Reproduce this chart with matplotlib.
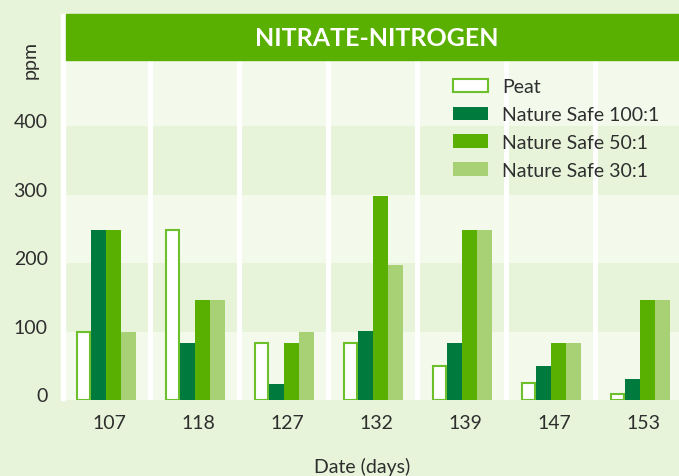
import matplotlib
matplotlib.use("Agg")
from matplotlib import pyplot as plt
from matplotlib.patches import Rectangle
from matplotlib.transforms import ScaledTranslation
import numpy as np

# data
days = ["107", "118", "127", "132", "139", "147", "153"]
peat = [100, 248, 83, 83, 50, 25, 9]
ns_100 = [248, 84, 24, 101, 84, 50, 31]
ns_50 = [248, 146, 84, 298, 248, 84, 146]
ns_30 = [100, 146, 100, 198, 248, 84, 146]
y_ticks = [0, 100, 200, 300, 400]

BG = "#e8f4da"
BAND_LIGHT = "#f3f9eb"
BAND_DARK = "#e8f4da"
DARK_GREEN = "#007a3d"
GREEN = "#5ab000"
LIGHT_GREEN = "#a8d074"
PEAT_EDGE = "#6cc02c"
TEXT = "#2e2e2e"

plt.rcParams["font.family"] = ["Lato", "DejaVu Sans"]

W, H = 679, 477
fig = plt.figure(figsize=(W / 100, H / 100), dpi=100, facecolor=BG)

# axes area in pixel terms
left_px, right_px, bottom_px, top_px = 63, 679, 401, 59
ax = fig.add_axes([left_px / W, 1 - bottom_px / H,
                   (right_px - left_px) / W, (bottom_px - top_px) / H])
ax.set_facecolor(BAND_LIGHT)

x = np.arange(len(days))
w = 0.169

ax.set_xlim(-0.48, 6.44)
ax.set_ylim(0, 500)

# alternating horizontal bands
for i, lo in enumerate(range(0, 500, 100)):
    ax.axhspan(lo, lo + 100, color=BAND_LIGHT if i % 2 == 0 else BAND_DARK,
               lw=0, zorder=0)

# white separators between groups
for i in range(len(days) - 1):
    ax.axvline(i + 0.5, color="white", lw=3.6, zorder=1)

ax.bar(x - 1.5 * w, peat, w * 0.88, color="white", edgecolor=PEAT_EDGE,
       linewidth=1.5, label="Peat", zorder=3)
ax.bar(x - 0.5 * w, ns_100, w, color=DARK_GREEN, label="Nature Safe 100:1", zorder=3)
ax.bar(x + 0.5 * w, ns_50, w, color=GREEN, label="Nature Safe 50:1", zorder=3)
ax.bar(x + 1.5 * w, ns_30, w, color=LIGHT_GREEN, label="Nature Safe 30:1", zorder=3)

for s in ax.spines.values():
    s.set_visible(False)

ax.set_xticks(x)
ax.set_xticklabels(days)
ax.set_yticks(y_ticks)
ax.tick_params(length=0, labelsize=14, labelcolor=TEXT)
ax.tick_params(axis="x", pad=10)
ax.tick_params(axis="y", pad=11)
for lab in ax.get_yticklabels():
    lab.set_transform(lab.get_transform() + ScaledTranslation(0, 6 / 100, fig.dpi_scale_trans))
for lab in ax.get_xticklabels():
    lab.set_transform(lab.get_transform() + ScaledTranslation(4 / 100, 0, fig.dpi_scale_trans))

leg = ax.legend(loc="upper left", bbox_to_anchor=(0.62, 0.963), frameon=False,
                fontsize=14, handlelength=1.8, handleheight=0.7,
                labelspacing=0.55, handletextpad=0.75, borderaxespad=0)
for t in leg.get_texts():
    t.set_color(TEXT)

# left white strip and title band
fig.patches.append(Rectangle((61 / W, 1 - bottom_px / H), 4 / W, (bottom_px - 15) / H,
                             transform=fig.transFigure, color="white", zorder=5))
fig.patches.append(Rectangle((66 / W, 1 - 61 / H), (W - 66) / W, 46 / H,
                             transform=fig.transFigure, color=GREEN, zorder=5))
fig.text(377 / W, 1 - 38 / H, "NITRATE-NITROGEN", color="white", fontsize=18,
         fontweight="bold", ha="center", va="center", zorder=6)

fig.text(30 / W, 1 - 60 / H, "ppm", rotation=90, color=TEXT, fontsize=14,
         ha="center", va="center")
fig.text(362 / W, 1 - 467 / H, "Date (days)", color=TEXT, fontsize=14,
         ha="center", va="center")

fig.savefig("out.png", dpi=100, facecolor=BG)
